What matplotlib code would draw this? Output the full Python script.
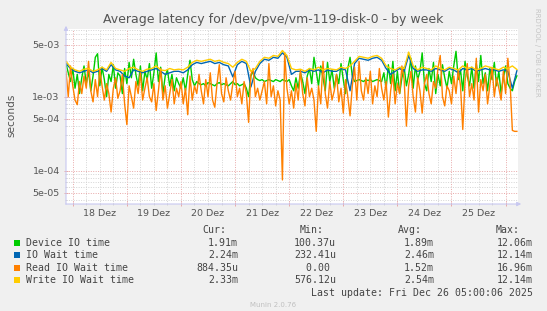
import matplotlib
matplotlib.use('Agg')
import matplotlib.pyplot as plt
import matplotlib.dates as mdates
import matplotlib.ticker as mticker
from matplotlib.patches import Rectangle
import numpy as np
import pandas as pd

# Data (in milliseconds)
start = pd.Timestamp('2025-12-17 21:00')
end = pd.Timestamp('2025-12-26 05:30')

# hourly samples
device_ms = [
    2.8, 2.1, 1.6, 2.4, 1.3, 2.0, 1.1, 1.8, 2.6, 1.5,
    2.2, 1.2, 1.9, 3.4, 3.8, 1.4, 2.5, 1.7, 1.0, 2.0,
    1.6, 2.7, 1.3, 2.1, 1.9, 1.1, 2.4, 1.5, 2.9, 1.8,
    3.2, 2.0, 1.4, 2.6, 1.2, 2.2, 1.7, 2.8, 1.3, 2.1,
    3.9, 1.6, 2.5, 1.1, 1.9, 2.3, 1.4, 2.0, 1.2, 1.8,
    1.5, 1.3, 1.8, 1.2, 2.0, 3.1, 1.7, 1.4, 1.6, 1.5,
    1.45, 1.5, 1.4, 1.55, 1.5, 1.45, 1.4, 1.5, 1.55, 1.45,
    1.5, 1.45, 1.4, 1.5, 1.6, 1.45, 1.5, 1.4, 1.45, 1.5,
    1.3, 1.0, 1.9, 2.2, 1.8, 1.7, 1.65, 1.7, 1.6, 1.65,
    1.7, 1.65, 1.6, 1.7, 1.65, 1.6, 1.7, 1.65, 1.6, 1.7,
    1.4, 1.2, 1.8, 1.3, 2.1, 1.6, 1.1, 1.9, 2.4, 1.5,
    3.4, 2.2, 1.4, 2.6, 1.8, 1.2, 2.9, 1.6, 2.3, 1.3,
    2.0, 1.5, 2.8, 1.7, 1.1, 2.4, 3.4, 1.9, 1.6, 1.65,
    1.7, 1.65, 1.6, 1.7, 1.65, 1.7, 1.6, 1.65, 1.7, 1.65,
    1.6, 2.1, 1.3, 2.7, 1.5, 3.0, 1.2, 2.2, 1.1, 1.8,
    2.5, 1.4, 2.0, 3.3, 1.3, 2.6, 1.7, 2.2, 3.9, 1.5,
    1.2, 2.4, 1.6, 2.9, 1.1, 2.0, 1.4, 2.7, 1.8, 1.3,
    2.2, 1.5, 2.6, 4.1, 1.7, 2.3, 1.2, 3.0, 1.9, 1.4,
    2.5, 1.3, 2.8, 1.6, 3.6, 1.5, 2.1, 1.2, 2.4, 1.7,
    2.9, 1.4, 2.2, 1.1, 1.8, 2.6, 1.5, 1.3, 1.2, 1.6,
    1.91,
]
read_ms = [
    2.2, 1.0, 2.6, 1.4, 0.9, 0.78, 1.6, 1.1, 1.9, 1.3,
    3.0, 1.2, 0.85, 1.7, 1.0, 2.3, 1.4, 0.9, 1.5, 1.1,
    0.62, 1.3, 1.8, 0.95, 1.2, 2.0, 0.8, 0.42, 1.4, 1.0,
    0.7, 1.6, 1.1, 2.1, 0.9, 1.3, 1.8, 1.0, 0.85, 1.5,
    0.65, 1.2, 2.4, 0.9, 1.4, 0.7, 1.1, 1.7, 0.8, 1.3,
    1.0, 1.6, 0.8, 1.3, 0.57, 1.9, 0.9, 1.4, 1.1, 2.0,
    1.2, 0.8, 1.7, 1.0, 2.1, 0.9, 0.72, 1.5, 2.7, 1.1,
    0.85, 1.8, 1.2, 0.9, 1.5, 2.2, 1.0, 1.3, 0.8, 1.6,
    1.1, 0.45, 2.0, 2.4, 1.0, 1.3, 0.9, 1.2, 1.6, 0.8,
    2.8, 1.0, 1.4, 0.75, 1.2, 0.9, 0.075, 3.9, 1.3, 0.8,
    1.2, 0.7, 1.5, 0.9, 2.3, 1.1, 0.75, 1.8, 1.0, 1.3,
    0.9, 0.34, 1.4, 0.8, 3.0, 1.1, 0.7, 1.6, 0.9, 1.2,
    2.0, 0.85, 1.3, 0.6, 1.7, 1.0, 0.55, 1.4, 2.5, 0.9,
    3.0, 1.2, 0.9, 1.8, 1.1, 2.2, 0.8, 1.4, 1.0, 2.4,
    1.3, 0.9, 1.6, 0.53, 1.2, 2.0, 0.8, 1.5, 1.1, 2.6,
    1.7, 0.40, 1.4, 2.2, 1.0, 0.62, 1.8, 1.2, 0.6, 1.5,
    2.0, 1.1, 0.8, 1.6, 1.3, 2.4, 3.6, 1.0, 0.75, 1.4,
    1.2, 0.8, 1.9, 1.1, 2.3, 1.4, 0.36, 1.6, 2.8, 1.0,
    1.5, 0.9, 3.3, 0.62, 1.7, 1.2, 2.0, 0.8, 1.4, 2.5,
    1.0, 1.8, 1.3, 0.9, 2.2, 1.1, 3.3, 1.5, 0.35, 0.34,
    0.34,
]
# two-hourly samples
iowait_ms = [
    2.8, 2.4, 2.2, 2.1, 2.2, 2.3, 2.1, 2.2, 2.4, 2.2, 2.7, 2.3,
    2.2, 1.9, 1.8, 2.3, 2.2, 2.1, 2.2, 2.3, 2.4, 2.2, 2.0, 2.1,
    2.2, 2.2, 2.1, 2.3, 2.7, 2.9, 2.8, 2.9, 3.0, 2.8, 2.9, 2.7,
    2.6, 1.85, 2.7, 3.0, 2.8, 1.35, 2.2, 2.8, 3.2, 3.1, 3.4, 3.3,
    3.9, 3.4, 2.0, 2.2, 2.2, 2.1, 2.3, 2.2, 2.3, 2.1, 2.3, 2.2,
    2.2, 2.4, 2.3, 1.2, 2.8, 3.3, 3.2, 3.1, 3.3, 3.4, 3.1, 2.4,
    2.0, 2.2, 2.4, 2.2, 3.6, 2.4, 2.2, 2.3, 2.3, 2.2, 2.4, 2.3,
    2.2, 2.4, 2.3, 2.1, 2.4, 2.3, 2.4, 2.2, 2.3, 2.4, 2.3, 2.3,
    2.2, 2.3, 2.2, 1.3, 2.24,
]
write_ms = [
    3.0, 2.5, 2.3, 2.2, 2.35, 2.4, 2.2, 2.3, 2.5, 2.3, 2.9, 2.4,
    2.3, 2.2, 2.4, 2.5, 2.3, 2.2, 2.35, 2.4, 2.6, 2.3, 2.25, 2.4,
    2.3, 2.35, 2.3, 2.5, 2.9, 3.1, 3.0, 3.1, 3.2, 3.0, 3.1, 2.9,
    2.8, 2.5, 2.9, 3.2, 3.0, 2.2, 2.4, 3.0, 3.4, 3.3, 3.6, 3.5,
    4.2, 3.6, 2.4, 2.3, 2.35, 2.2, 2.4, 2.3, 2.5, 2.3, 2.4, 2.35,
    2.3, 2.5, 2.4, 2.6, 3.0, 3.5, 3.4, 3.3, 3.5, 3.6, 3.3, 2.6,
    2.4, 2.3, 2.5, 2.4, 4.0, 2.6, 2.3, 2.5, 2.4, 2.3, 2.6, 2.4,
    2.3, 2.5, 2.4, 2.3, 2.6, 2.4, 2.5, 2.3, 2.4, 2.6, 2.5, 2.4,
    2.3, 2.5, 2.4, 2.6, 2.33,
]

day_labels = ['18 Dez', '19 Dez', '20 Dez', '21 Dez', '22 Dez', '23 Dez', '24 Dez', '25 Dez']
y_ticks = [5e-5, 1e-4, 5e-4, 1e-3, 5e-3]
y_labels = ['5e-05', '1e-04', '5e-04', '1e-03', '5e-03']

names = ['Device IO time', 'IO Wait time', 'Read IO Wait time', 'Write IO Wait time']
colors = ['#00cc00', '#0066b3', '#ff8000', '#ffcc00']
cur = ['1.91m', '2.24m', '884.35u', '2.33m']
mins = ['100.37u', '232.41u', '0.00 ', '576.12u']
avgs = ['1.89m', '2.46m', '1.52m', '2.54m']
maxs = ['12.06m', '12.14m', '16.96m', '12.14m']

W, H = 547, 311
fig = plt.figure(figsize=(W / 100, H / 100), dpi=100, facecolor='#f0f0f0')
ax = fig.add_axes([66 / W, 1 - 204 / H, 452 / W, 175 / H])
ax.set_facecolor('white')

t_hourly = start + pd.to_timedelta(np.arange(len(device_ms)), unit='h')
t_2h = start + pd.to_timedelta(np.arange(len(iowait_ms)) * 2, unit='h')

series = [(t_hourly, device_ms), (t_2h, iowait_ms), (t_hourly, read_ms), (t_2h, write_ms)]
for (t, v), c in zip(series, colors):
    ax.plot(t, np.array(v) * 1e-3, color=c, lw=1.0, zorder=3)

ax.set_yscale('log')
ax.set_ylim(3.55e-5, 8.2e-3)
ax.set_xlim(start, end)

ax.yaxis.set_major_locator(mticker.FixedLocator(y_ticks))
ax.yaxis.set_major_formatter(mticker.FixedFormatter(y_labels))
ax.yaxis.set_minor_locator(mticker.LogLocator(base=10, subs=(2, 3, 4, 6, 7, 8, 9), numticks=20))
ax.yaxis.set_minor_formatter(mticker.NullFormatter())

ax.xaxis.set_major_locator(mdates.DayLocator())
ax.xaxis.set_major_formatter(mticker.NullFormatter())
ax.xaxis.set_minor_locator(mdates.HourLocator(byhour=[6, 12, 18]))

red = '#e8a8a8'
gray = '#d4d4d4'
ax.grid(which='major', color=red, ls=(0, (1, 1.5)), lw=0.7, zorder=1)
ax.grid(which='minor', color=gray, ls=(0, (1, 1.5)), lw=0.7, zorder=1)
ax.set_axisbelow(True)
ax.tick_params(which='major', length=3, direction='inout', color=red, width=0.7,
               labelsize=6.8, labelcolor='#555555', pad=3)
ax.tick_params(which='minor', length=2, direction='inout', color=gray, width=0.7)
for s in ax.spines.values():
    s.set_visible(False)

# axis lines with arrows
axis_col = '#c8c8f0'
ax.annotate('', xy=(0, 1 + 6 / 175), xytext=(0, -3 / 175), xycoords='axes fraction',
            arrowprops=dict(arrowstyle='-|>', color=axis_col, lw=0.8, mutation_scale=6),
            annotation_clip=False)
ax.annotate('', xy=(1 + 6 / 452, 0), xytext=(-3 / 452, 0), xycoords='axes fraction',
            arrowprops=dict(arrowstyle='-|>', color=axis_col, lw=0.8, mutation_scale=6),
            annotation_clip=False)

noons = pd.date_range('2025-12-18 12:00', periods=len(day_labels), freq='D')
for d, lab in zip(noons, day_labels):
    ax.text(mdates.date2num(d), -9 / 175, lab, transform=ax.get_xaxis_transform(),
            ha='center', va='center', fontsize=6.8, color='#555555')

fig.text(273 / W, 1 - 20 / H, 'Average latency for /dev/pve/vm-119-disk-0 - by week',
         ha='center', va='center', fontsize=9, color='#555555')
fig.text(11 / W, 1 - 115 / H, 'seconds', rotation=90, ha='center', va='center',
         fontsize=7.6, color='#555555')
fig.text(537 / W, 1 - 8 / H, 'RRDTOOL / TOBI OETIKER', rotation=270, ha='center', va='top',
         fontsize=5, color='#c4c4c4')

# legend block
mono = dict(family='DejaVu Sans Mono', fontsize=7.15, color='#444444', va='center')
for x, h in zip([226, 324, 422, 520], ['Cur:', 'Min:', 'Avg:', 'Max:']):
    fig.text(x / W, 1 - 230 / H, h, ha='right', **mono)
rows_y = [243, 255.3, 267.6, 280]
for y, n, c, a, b, m, mx in zip(rows_y, names, colors, cur, mins, avgs, maxs):
    fig.patches.append(Rectangle((13.5 / W, 1 - (y + 3) / H), 6 / W, 6 / H,
                                 transform=fig.transFigure, facecolor=c, edgecolor='none'))
    fig.text(26 / W, 1 - y / H, n, ha='left', **mono)
    fig.text(238 / W, 1 - y / H, a, ha='right', **mono)
    fig.text(336 / W, 1 - y / H, b, ha='right', **mono)
    fig.text(434 / W, 1 - y / H, m, ha='right', **mono)
    fig.text(533 / W, 1 - y / H, mx, ha='right', **mono)
fig.text(533 / W, 1 - 292.7 / H, 'Last update: Fri Dec 26 05:00:06 2025', ha='right', **mono)
fig.text(273 / W, 1 - 305 / H, 'Munin 2.0.76', ha='center', va='center', fontsize=5,
         color='#c0c0c0')

fig.savefig('out.png', dpi=100, facecolor=fig.get_facecolor())
